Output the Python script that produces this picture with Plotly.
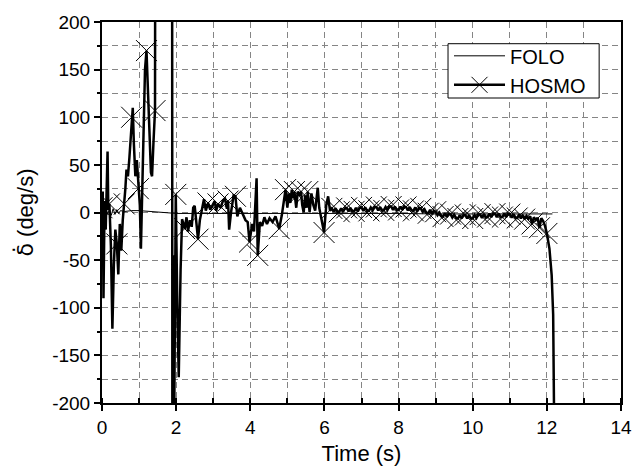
import plotly.graph_objects as go

# FOLO estimate (thin reference line)
folo_t = [0.00, 0.03, 0.06, 0.10, 0.15, 0.20, 0.25, 0.30, 0.35, 0.40, 0.45, 0.50,
          0.60, 0.80, 1.00, 1.20, 1.50, 2.00, 3.00, 4.00, 5.00, 6.00, 7.00, 8.00,
          9.00, 10.00, 11.00, 12.15]
folo_v = [0, 6, -4, 5, -2, 3, -3, 4, -2, 3, -1, 2,
          1, 2, 2, 1.5, 0.5, -1, -1, -1, -0.5, -1, -1, -1,
          -1.5, -1.5, -1.5, -1.5]

# HOSMO estimate
hosmo_t = [0.00, 0.02, 0.04, 0.07, 0.10, 0.13, 0.15, 0.17, 0.20, 0.24, 0.28, 0.32,
           0.36, 0.40, 0.44, 0.48, 0.52, 0.56, 0.60, 0.63, 0.66, 0.70, 0.74, 0.77,
           0.80, 0.83, 0.86, 0.90, 0.94, 0.98, 1.02, 1.05, 1.08, 1.12, 1.16, 1.20,
           1.24, 1.28, 1.32, 1.35, 1.39, 1.43, 1.44, 1.89, 1.90, 1.92, 1.94, 1.99,
           2.03, 2.07, 2.12, 2.16, 2.23, 2.28, 2.32, 2.37, 2.42, 2.46, 2.50, 2.55,
           2.59, 2.64, 2.70, 2.75, 2.80, 2.86, 2.92, 2.98, 3.04, 3.08, 3.13, 3.20,
           3.26, 3.32, 3.37, 3.40, 3.43, 3.48, 3.55, 3.60, 3.65, 3.72, 3.80, 3.87,
           3.93, 3.98, 4.05, 4.10, 4.17, 4.20, 4.26, 4.32, 4.38, 4.45, 4.52, 4.60,
           4.68, 4.78, 4.85, 4.95, 5.00, 5.04, 5.08, 5.12, 5.16, 5.19, 5.24, 5.28,
           5.32, 5.37, 5.40, 5.44, 5.48, 5.52, 5.55, 5.60, 5.65, 5.70, 5.75, 5.82,
           5.86, 5.92, 5.99, 6.05, 6.10, 6.15,
           6.20, 6.25, 6.30, 6.35, 6.40, 6.45, 6.50, 6.55, 6.60, 6.65, 6.70, 6.75,
           6.80, 6.85, 6.90, 6.95, 7.00, 7.05, 7.10, 7.15, 7.20, 7.25, 7.30, 7.35,
           7.40, 7.45, 7.50, 7.55, 7.60, 7.65, 7.70, 7.75, 7.80, 7.85, 7.90, 7.95,
           8.00, 8.05, 8.10, 8.15, 8.20, 8.25, 8.30, 8.35, 8.40, 8.45, 8.50, 8.55,
           8.60, 8.65, 8.70, 8.75, 8.80, 8.85, 8.90, 8.95, 9.00, 9.05, 9.10, 9.15,
           9.20, 9.25, 9.30, 9.35, 9.40, 9.45, 9.50, 9.55, 9.60, 9.65, 9.70, 9.75,
           9.80, 9.85, 9.90, 9.95, 10.00, 10.05, 10.10, 10.15, 10.20, 10.25, 10.30, 10.35,
           10.40, 10.45, 10.50, 10.55, 10.60, 10.65, 10.70, 10.75, 10.80, 10.85, 10.90, 10.95,
           11.00, 11.05, 11.10, 11.15, 11.20, 11.25, 11.30, 11.35, 11.40, 11.45, 11.50, 11.55,
           11.60, 11.65, 11.70, 11.75, 11.80, 11.85, 11.90, 11.95, 12.00, 12.07, 12.13, 12.17,
           12.20, 12.22]
hosmo_v = [5, 22, -90, 12, -18, 30, 64, 3, 9, -35, -122, -55,
           -18, -33, -65, -12, -40, -8, 9, 25, 45, 38, 58, 80,
           100, 110, 72, 38, 55, 25, 8, -38, 25, 105, 150, 170,
           135, 85, 42, 38, 75, 107, 420, 420, -420, -45, -260, 19,
           -95, -173, -60, -7, -17, -5, -20, -8, -15, 5, 7, -10,
           -28, -8, 5, 14, 2, 10, 3, 8, 12, 2, 9, 5,
           12, 14, 4, 12, -18, 0, 18, 17, -4, 5, -2, -8,
           -10, -31, -12, -20, 36, -45, -10, -14, -5, -12, -6, -10,
           -4, -17, -3, 24, 5, 20, 10, 24, 15, 22, 5, 22,
           18, 22, 8, 0, 18, 5, 22, 0, 20, 8, 2, 26,
           5, -8, -21, 8, 17, 2,
           4.3, 0.7, 4.3, 0.7, 0.7, 4.3, 0.7, 4.3, 4.8, 1.2, 4.8, 1.2,
           1.2, 4.8, 1.2, 4.8, 5.3, 1.7, 5.3, 1.7, 1.7, 5.3, 2.2, 5.8,
           5.8, 2.2, 5.8, 2.2, 2.2, 5.8, 2.7, 6.3, 6.3, 2.7, 6.3, 2.7,
           2.7, 6.3, 2.7, 6.3, 5.8, 2.2, 5.8, 2.2, 1.7, 5.3, 1.2, 4.8,
           4.3, 0.7, 3.3, -0.3, -0.8, 2.8, -1.8, 1.8, 0.8, -2.8, -0.2, -3.8,
           -4.3, -0.7, -4.8, -1.2, -1.7, -5.3, -2.2, -5.8, -6.3, -2.7, -6.3, -2.7,
           -2.7, -6.3, -2.7, -6.3, -6.3, -2.7, -5.8, -2.2, -2.2, -5.8, -1.7, -5.3,
           -4.8, -1.2, -4.8, -1.2, -1.2, -4.8, -1.2, -4.8, -4.8, -1.2, -4.8, -1.2,
           -1.7, -5.3, -1.7, -5.3, -5.8, -2.2, -6.3, -2.7, -7, -3.5, -6.5, -4,
           -12, -5, -8, -5.5, -16, -6, -9, -14, -22, -38, -66, -107,
           -200, -320]

# Sample times at which the HOSMO curve carries an "x" symbol
hosmo_marker_t = [0.00, 0.20, 0.40, 0.60, 0.80, 0.98, 1.20, 1.43, 1.99, 2.23, 2.59,
                  2.86, 3.13, 3.40, 3.60, 3.98, 4.20, 4.78, 4.95, 5.19, 5.37, 5.55,
                  5.99, 6.2, 6.4, 6.6, 6.8, 7.0, 7.2, 7.4, 7.6, 7.8, 8.0, 8.2, 8.4,
                  8.6, 8.8, 9.0, 9.2, 9.4, 9.6, 9.8, 10.0, 10.2, 10.4, 10.6, 10.8,
                  11.0, 11.2, 11.4, 11.6, 11.8, 12.0]

x_tick_vals = [0, 2, 4, 6, 8, 10, 12, 14]
x_tick_text = ["0", "2", "4", "6", "8", "10", "12", "14"]
y_tick_vals = [-200, -150, -100, -50, 0, 50, 100, 150, 200]
y_tick_text = ["-200", "-150", "-100", "-50", "0", "50", "100", "150", "200"]

FONT = "Liberation Sans, Arial, Helvetica, sans-serif"
GRID = "#858585"

marked = {round(t, 3) for t in hosmo_marker_t}
mark_colors = ["black" if round(t, 3) in marked else "rgba(0,0,0,0)" for t in hosmo_t]

fig = go.Figure()
fig.add_trace(go.Scatter(
    x=folo_t, y=folo_v, name="FOLO", mode="lines",
    line=dict(color="black", width=1),
))
fig.add_trace(go.Scatter(
    x=hosmo_t, y=hosmo_v, name="HOSMO", mode="lines+markers",
    line=dict(color="black", width=2.5),
    marker=dict(symbol="x-thin", size=21, color=mark_colors,
                line=dict(color=mark_colors, width=1)),
))

axis_common = dict(
    showline=True, linecolor="black", linewidth=2, mirror=True,
    showgrid=True, gridcolor=GRID, gridwidth=1, griddash="6px,4px",
    zeroline=False, ticks="outside", tickcolor="black", tickwidth=1.5,
    tickfont=dict(family=FONT, size=19, color="black"),
)

fig.update_xaxes(
    **axis_common, range=[0, 14], tickvals=x_tick_vals, ticktext=x_tick_text,
    ticklen=6,
    minor=dict(dtick=1, tick0=0, showgrid=True, gridcolor=GRID, gridwidth=1,
               griddash="6px,4px", ticks="inside", ticklen=5, tickcolor="black"),
    title=dict(text="Time (s)", font=dict(family=FONT, size=22, color="black"),
               standoff=9),
)
fig.update_yaxes(
    **axis_common, range=[-200, 200], tickvals=y_tick_vals, ticktext=y_tick_text,
    ticklen=6,
    minor=dict(dtick=25, tick0=0, showgrid=True, gridcolor=GRID, gridwidth=1,
               griddash="6px,4px", ticks="outside", ticklen=3, tickcolor="black"),
    title=dict(text="<span style='font-family:DejaVu Sans'>δ̇</span> (deg/s)",
               font=dict(family=FONT, size=22, color="black"), standoff=12),
)

# Legend frame
fig.add_shape(
    type="rect", xref="paper", yref="paper",
    x0=0.6667, x1=0.9579, y0=0.8005, y1=0.9430,
    line=dict(color="black", width=1), fillcolor="white", layer="above",
)

fig.update_layout(
    width=644, height=474,
    margin=dict(l=102, r=20, t=17, b=71),
    paper_bgcolor="white", plot_bgcolor="white",
    font=dict(family=FONT, color="black"),
    showlegend=True,
    legend=dict(
        x=0.6686, y=0.9624, xanchor="left", yanchor="top",
        bgcolor="rgba(0,0,0,0)", borderwidth=0,
        font=dict(family=FONT, size=20, color="black"),
        itemwidth=51, tracegroupgap=0,
    ),
)

fig.write_html("out.html")
